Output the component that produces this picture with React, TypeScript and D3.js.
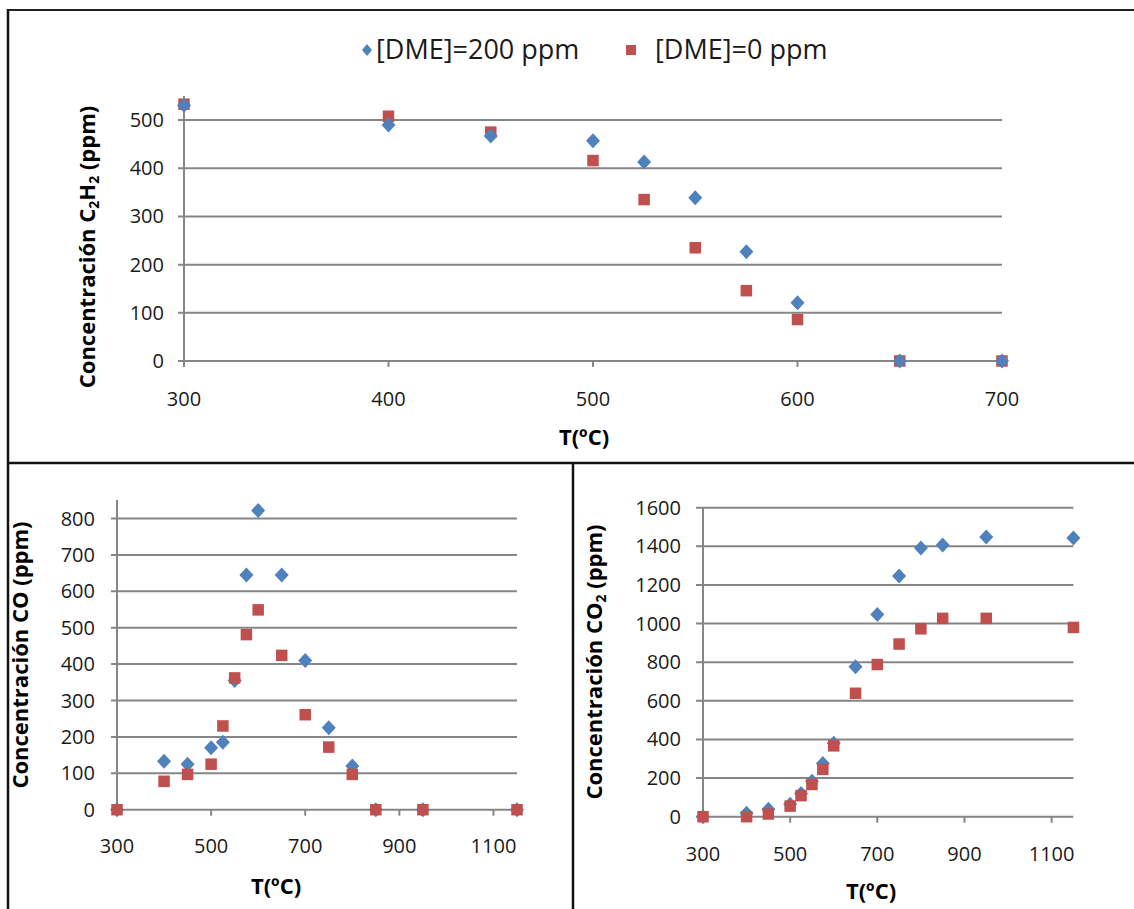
import React from "react";
import * as d3 from "d3";

// ---------- data ----------
const seriesNames = ["[DME]=200 ppm", "[DME]=0 ppm"];
const seriesColors = ["#4F81BD", "#C0504D"];

const tempC2H2 = [300, 400, 450, 500, 525, 550, 575, 600, 650, 700];
const c2h2DME200 = [531, 490, 467, 457, 413, 339, 227, 121, 0, 0];
const c2h2DME0 = [533, 508, 475, 416, 335, 235, 146, 86, 0, 0];

const tempCOx = [300, 400, 450, 500, 525, 550, 575, 600, 650, 700, 750, 800, 850, 950, 1150];
const coDME200 = [0, 133, 125, 170, 185, 355, 645, 822, 645, 410, 225, 120, 0, 0, 0];
const coDME0 = [0, 78, 97, 125, 230, 362, 481, 549, 424, 261, 172, 97, 0, 0, 0];
const co2DME200 = [0, 18, 38, 65, 120, 183, 276, 380, 777, 1047, 1246, 1391, 1407, 1448, 1443];
const co2DME0 = [0, 0, 14, 55, 109, 167, 245, 367, 639, 788, 894, 973, 1027, 1027, 980];

const c2h2XTicks = [300, 400, 500, 600, 700];
const c2h2YTicks = [0, 100, 200, 300, 400, 500];
const coXTicks = [300, 500, 700, 900, 1100];
const coYTicks = [0, 100, 200, 300, 400, 500, 600, 700, 800];
const co2XTicks = [300, 500, 700, 900, 1100];
const co2YTicks = [0, 200, 400, 600, 800, 1000, 1200, 1400, 1600];

const FONT = "'Open Sans', 'Liberation Sans', sans-serif";
const GRID = "#868686";

type Lbl = { text: string; sub?: boolean }[];

type PanelProps = {
  temps: number[];
  blue: number[];
  red: number[];
  xDomain: [number, number];
  yDomain: [number, number];
  xRange: [number, number];
  yRange: [number, number];
  xTicks: number[];
  yTicks: number[];
  yTickRight: number;
  xTickY: number;
  xTitle: [number, number];
  yTitle: [number, number];
  yLabel: Lbl;
  blueOnTop: boolean;
  gridLeft: number;
  axisTop: number;
};

function Diamond({ x, y, c }: { x: number; y: number; c: string }) {
  const w = 7, h = 7.5;
  return <path d={`M${x},${y - h}L${x + w},${y}L${x},${y + h}L${x - w},${y}Z`} fill={c} />;
}
function Square({ x, y, c, s = 11.5 }: { x: number; y: number; c: string; s?: number }) {
  return <rect x={x - s / 2} y={y - s / 2} width={s} height={s} fill={c} />;
}

function Panel(p: PanelProps) {
  const x = d3.scaleLinear().domain(p.xDomain).range(p.xRange);
  const y = d3.scaleLinear().domain(p.yDomain).range(p.yRange);
  const x0 = p.xRange[0];
  const y0 = y(0);
  const blueMarks = p.temps.map((t, i) => <Diamond key={"b" + i} x={x(t)} y={y(p.blue[i])} c={seriesColors[0]} />);
  const redMarks = p.temps.map((t, i) => <Square key={"r" + i} x={x(t)} y={y(p.red[i])} c={seriesColors[1]} />);
  return (
    <g>
      {p.yTicks.map((t) => (
        <line key={"g" + t} x1={p.gridLeft} x2={p.xRange[1]} y1={y(t)} y2={y(t)} stroke={GRID} strokeWidth={2} />
      ))}
      <line x1={x0} x2={x0} y1={p.axisTop} y2={y0 + 6} stroke={GRID} strokeWidth={2} />
      {p.xTicks.map((t) => (
        <line key={"xt" + t} x1={x(t)} x2={x(t)} y1={y0} y2={y0 + 6} stroke={GRID} strokeWidth={2} />
      ))}
      {p.yTicks.map((t) => (
        <text key={"yl" + t} x={p.yTickRight} y={y(t)} dy="0.35em" textAnchor="end" fontSize={20} fontFamily={FONT} fill="#1a1a1a">
          {t}
        </text>
      ))}
      {p.xTicks.map((t) => (
        <text key={"xl" + t} x={x(t)} y={p.xTickY} dy="0.35em" textAnchor="middle" fontSize={20} fontFamily={FONT} fill="#1a1a1a">
          {t}
        </text>
      ))}
      <text x={p.xTitle[0]} y={p.xTitle[1]} dy="0.35em" textAnchor="middle" fontSize={22} fontWeight="bold" fontFamily={FONT} fill="#000">
        T(ºC)
      </text>
      <text
        transform={`translate(${p.yTitle[0]},${p.yTitle[1]}) rotate(-90)`}
        dy="0.35em"
        textAnchor="middle"
        fontSize={22}
        fontWeight="bold"
        fontFamily={FONT}
        fill="#000"
      >
        {p.yLabel.map((s, i) =>
          s.sub ? (
            <tspan key={i} fontSize={14} dy={4}>
              {s.text}
            </tspan>
          ) : (
            <tspan key={i} dy={i > 0 && p.yLabel[i - 1].sub ? -4 : 0}>
              {s.text}
            </tspan>
          )
        )}
      </text>
      {p.blueOnTop ? (
        <>
          {redMarks}
          {blueMarks}
        </>
      ) : (
        <>
          {blueMarks}
          {redMarks}
        </>
      )}
    </g>
  );
}

export default function App() {
  return (
    <svg width={1134} height={909} style={{ position: "absolute", left: 0, top: 0, background: "#fff" }}>
      <rect x={0} y={0} width={1134} height={909} fill="#fff" />
      {/* frame lines */}
      <line x1={7} x2={1134} y1={10} y2={10} stroke="#222" strokeWidth={2} />
      <line x1={8} x2={8} y1={9} y2={909} stroke="#111" strokeWidth={2.5} />
      <line x1={7} x2={1134} y1={463} y2={463} stroke="#111" strokeWidth={2.5} />
      <line x1={573} x2={573} y1={463} y2={909} stroke="#111" strokeWidth={2.5} />

      {/* legend */}
      <path d="M367,44L372,50L367,56L362,50Z" fill={seriesColors[0]} />
      <text x={376} y={50} dy="0.35em" fontSize={27} fontFamily={FONT} fill="#1a1a1a">
        {seriesNames[0]}
      </text>
      <rect x={626} y={45} width={10} height={10} fill={seriesColors[1]} />
      <text x={655} y={50} dy="0.35em" fontSize={27} fontFamily={FONT} fill="#1a1a1a">
        {seriesNames[1]}
      </text>

      <Panel
        temps={tempC2H2}
        blue={c2h2DME200}
        red={c2h2DME0}
        xDomain={[300, 700]}
        yDomain={[0, 550]}
        xRange={[184, 1002]}
        yRange={[361, 96]}
        xTicks={c2h2XTicks}
        yTicks={c2h2YTicks}
        yTickRight={164}
        xTickY={399}
        xTitle={[584, 437]}
        yTitle={[95, 247]}
        yLabel={[{ text: "Concentración C" }, { text: "2", sub: true }, { text: "H" }, { text: "2", sub: true }, { text: " (ppm)" }]}
        blueOnTop={true}
        gridLeft={178}
        axisTop={96}
      />
      <Panel
        temps={tempCOx}
        blue={coDME200}
        red={coDME0}
        xDomain={[300, 1150]}
        yDomain={[0, 850]}
        xRange={[117, 517]}
        yRange={[809.7, 500.3]}
        xTicks={coXTicks}
        yTicks={coYTicks}
        yTickRight={95}
        xTickY={846}
        xTitle={[276, 886]}
        yTitle={[28, 655]}
        yLabel={[{ text: "Concentración CO (ppm)" }]}
        blueOnTop={false}
        gridLeft={111}
        axisTop={500}
      />
      <Panel
        temps={tempCOx}
        blue={co2DME200}
        red={co2DME0}
        xDomain={[300, 1150]}
        yDomain={[0, 1600]}
        xRange={[703, 1073.4]}
        yRange={[816.7, 507.7]}
        xTicks={co2XTicks}
        yTicks={co2YTicks}
        yTickRight={681}
        xTickY={854}
        xTitle={[871, 891]}
        yTitle={[602, 662]}
        yLabel={[{ text: "Concentración CO" }, { text: "2", sub: true }, { text: " (ppm)" }]}
        blueOnTop={false}
        gridLeft={696}
        axisTop={507.7}
      />
    </svg>
  );
}
